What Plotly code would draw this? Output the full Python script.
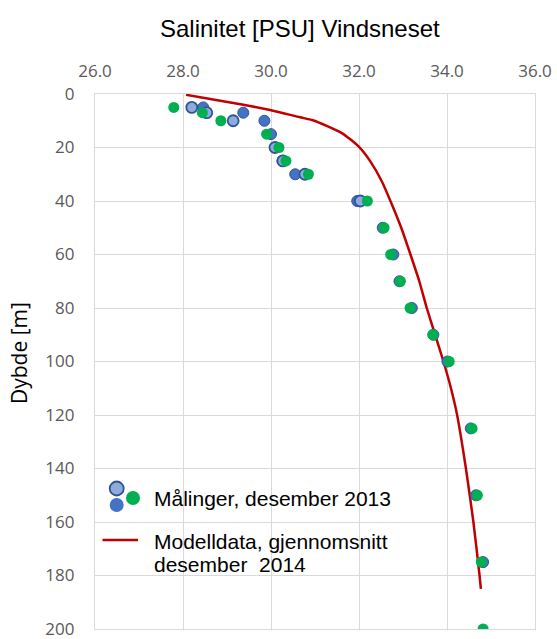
import plotly.graph_objects as go

# ---- data ----
model_depth = [0.3, 4, 6, 8.7, 9.8, 14.6, 19.6, 25, 32.7, 41.4, 50, 60, 70, 80, 90, 100, 110, 120, 140, 160, 180, 185]
model_sal = [28.07, 29.37, 29.98, 30.66, 30.95, 31.61, 31.99, 32.25, 32.52, 32.75, 32.96, 33.17, 33.37, 33.54, 33.73, 33.92, 34.09, 34.23, 34.43, 34.6, 34.74, 34.77]

ring_depth = [5, 7, 10, 20, 25, 30, 40]
ring_sal = [28.2, 28.54, 29.14, 30.09, 30.27, 30.77, 32.03]

blue_depth = [5, 7, 10, 15, 25, 30, 40, 50, 60, 70, 80, 90, 100, 125, 150, 175]
blue_sal = [28.46, 29.37, 29.85, 30.0, 30.26, 30.55, 31.96, 32.54, 32.78, 32.92, 33.2, 33.69, 34.01, 34.54, 34.66, 34.82]

green_depth = [5, 7, 10, 15, 20, 25, 30, 40, 50, 60, 70, 80, 90, 100, 125, 150, 175, 200]
green_sal = [27.79, 28.44, 28.86, 29.9, 30.18, 30.34, 30.85, 32.19, 32.57, 32.72, 32.94, 33.16, 33.68, 34.05, 34.57, 34.69, 34.78, 34.82]

x_ticks = [26, 28, 30, 32, 34, 36]
y_ticks = [0, 20, 40, 60, 80, 100, 120, 140, 160, 180, 200]

title_text = "Salinitet [PSU] Vindsneset"
y_title = "Dybde [m]"
legend_meas = "Målinger, desember 2013"
legend_model_1 = "Modelldata, gjennomsnitt"
legend_model_2 = "desember\u00a0 2014"

fig = go.Figure()
fig.add_trace(go.Scatter(x=model_sal, y=model_depth, mode="lines",
                         line=dict(color="#C00000", width=2.5, shape="spline", smoothing=0.6),
                         showlegend=False))
fig.add_trace(go.Scatter(x=blue_sal, y=blue_depth, mode="markers",
                         marker=dict(size=11, color="#4472C4", line=dict(color="#2F5597", width=1)),
                         showlegend=False))
fig.add_trace(go.Scatter(x=ring_sal, y=ring_depth, mode="markers",
                         marker=dict(size=11, color="#8FAADC", line=dict(color="#2F5597", width=1.8)),
                         showlegend=False))
fig.add_trace(go.Scatter(x=green_sal, y=green_depth, mode="markers",
                         marker=dict(size=11, color="#00B050", line=dict(color="#00B050", width=0)),
                         showlegend=False))

L, T, PW, PH = 95, 94, 440, 535

def px(xp):
    return (xp - L) / PW

def py(yp):
    return 1 - (yp - T) / PH

tickfont = dict(family="Open Sans", size=17, color="#595959")

fig.update_layout(
    width=557, height=639,
    margin=dict(l=L, r=557 - L - PW, t=T, b=639 - T - PH, autoexpand=False),
    paper_bgcolor="white", plot_bgcolor="white",
    showlegend=False,
    xaxis=dict(range=[26, 36], tickvals=x_ticks, tickformat=".1f", side="top",
               showgrid=True, gridcolor="#D9D9D9", gridwidth=1.3,
               showline=True, mirror=True, linecolor="#D9D9D9", linewidth=1.3,
               zeroline=False, ticks="", tickfont=tickfont, ticklabelstandoff=9,
               ticklabeloverflow="allow", automargin=False),
    yaxis=dict(range=[200, 0], tickvals=y_ticks,
               showgrid=True, gridcolor="#D9D9D9", gridwidth=1.3,
               showline=True, mirror=True, linecolor="#D9D9D9", linewidth=1.3,
               zeroline=False, ticks="", tickfont=tickfont, ticklabelstandoff=16,
               ticklabeloverflow="allow", automargin=False),
)

annotations = [
    dict(text=title_text, xref="paper", yref="paper", x=px(300), y=py(28),
         xanchor="center", yanchor="middle", showarrow=False,
         font=dict(family="Liberation Sans", size=24, color="#000000")),
    dict(text=y_title, xref="paper", yref="paper", x=px(19), y=py(353),
         xanchor="center", yanchor="middle", showarrow=False, textangle=-90,
         font=dict(family="Open Sans", size=21, color="#000000")),
    dict(text=legend_meas, xref="paper", yref="paper", x=px(152), y=py(498),
         xanchor="left", yanchor="middle", showarrow=False,
         font=dict(family="Liberation Sans", size=21, color="#000000")),
    dict(text=legend_model_1, xref="paper", yref="paper", x=px(152), y=py(541),
         xanchor="left", yanchor="middle", showarrow=False,
         font=dict(family="Liberation Sans", size=21, color="#000000")),
    dict(text=legend_model_2, xref="paper", yref="paper", x=px(152), y=py(564),
         xanchor="left", yanchor="middle", showarrow=False,
         font=dict(family="Liberation Sans", size=21, color="#000000")),
]
fig.update_layout(annotations=annotations)

def circle(cx, cy, d, fill, line_color, lw):
    return dict(type="circle", xref="paper", yref="paper", xsizemode="pixel", ysizemode="pixel",
                xanchor=px(cx), yanchor=py(cy), x0=-d / 2, x1=d / 2, y0=-d / 2, y1=d / 2,
                fillcolor=fill, line=dict(color=line_color, width=lw))

shapes = [
    circle(116.7, 488.5, 14, "#8FAADC", "#2F5597", 1.8),
    circle(116.7, 505, 14, "#4472C4", "#4472C4", 0),
    circle(133, 498, 14, "#00B050", "#00B050", 0),
    dict(type="line", xref="paper", yref="paper", x0=px(102.5), x1=px(138), y0=py(540), y1=py(540),
         line=dict(color="#C00000", width=2.5)),
]
fig.update_layout(shapes=shapes)

fig.write_html("out.html")
